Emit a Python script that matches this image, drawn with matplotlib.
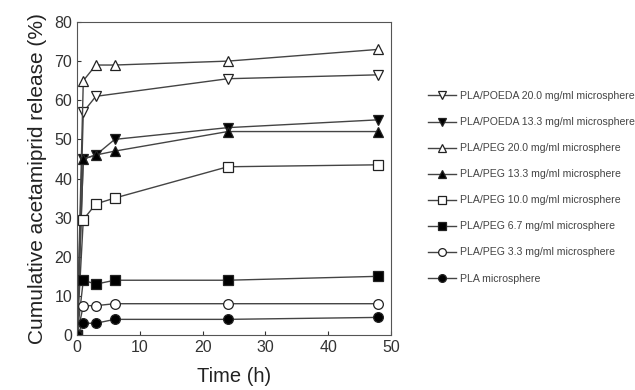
import matplotlib
matplotlib.use("Agg")
import matplotlib.pyplot as plt

plt.rcParams['font.family'] = ['Liberation Sans', 'DejaVu Sans']

# release data
time_full = [0, 1, 3, 6, 24, 48]
time_poeda20 = [0, 1, 3, 24, 48]

poeda_20 = [0, 57, 61, 65.5, 66.5]
poeda_13 = [0, 45, 46, 50, 53, 55]
peg_20 = [0, 65, 69, 69, 70, 73]
peg_13 = [0, 45, 46, 47, 52, 52]
peg_10 = [0, 29.5, 33.5, 35, 43, 43.5]
peg_6 = [0, 14, 13, 14, 14, 15]
peg_3 = [0, 7.5, 7.5, 8, 8, 8]
pla = [0, 3, 3, 4, 4, 4.5]

labels = ['PLA/POEDA 20.0 mg/ml microsphere', 'PLA/POEDA 13.3 mg/ml microsphere',
          'PLA/PEG 20.0 mg/ml microsphere', 'PLA/PEG 13.3 mg/ml microsphere',
          'PLA/PEG 10.0 mg/ml microsphere', 'PLA/PEG 6.7 mg/ml microsphere',
          'PLA/PEG 3.3 mg/ml microsphere', 'PLA microsphere']

series = [
    (time_poeda20, poeda_20, 'v', 'white'),
    (time_full, poeda_13, 'v', 'black'),
    (time_full, peg_20, '^', 'white'),
    (time_full, peg_13, '^', 'black'),
    (time_full, peg_10, 's', 'white'),
    (time_full, peg_6, 's', 'black'),
    (time_full, peg_3, 'o', 'white'),
    (time_full, pla, 'o', 'black'),
]

fig = plt.figure(figsize=(6.35, 3.9), dpi=100)
ax = fig.add_axes([0.1213, 0.141, 0.4945, 0.8026])

for (t, y, m, fc), lab in zip(series, labels):
    ax.plot(t, y, marker=m, markerfacecolor=fc, markeredgecolor='#222222',
            color='#444444', linewidth=1.0, markersize=7, markeredgewidth=0.9,
            label=lab)

ax.set_xlim(0, 50)
ax.set_ylim(0, 80)
ax.set_xticks([0, 10, 20, 30, 40, 50])
ax.set_yticks(range(0, 81, 10))
ax.tick_params(direction='in', length=3, labelsize=11.5, colors='#333333',
               labelcolor='#333333')
for s in ax.spines.values():
    s.set_color('#555555')
ax.set_xlabel('Time (h)', fontsize=14.5, color='#222222', labelpad=9)
ax.set_ylabel('Cumulative acetamiprid release (%)', fontsize=15,
              color='#222222', labelpad=5)

leg = fig.legend(loc='upper left', bbox_to_anchor=(0.668, 0.777), frameon=False,
                 fontsize=7.6, handlelength=2.6, handletextpad=0.35,
                 labelspacing=1.52, borderaxespad=0, markerscale=0.8)
for txt in leg.get_texts():
    txt.set_color('#444444')

fig.savefig('out.png', dpi=100)
